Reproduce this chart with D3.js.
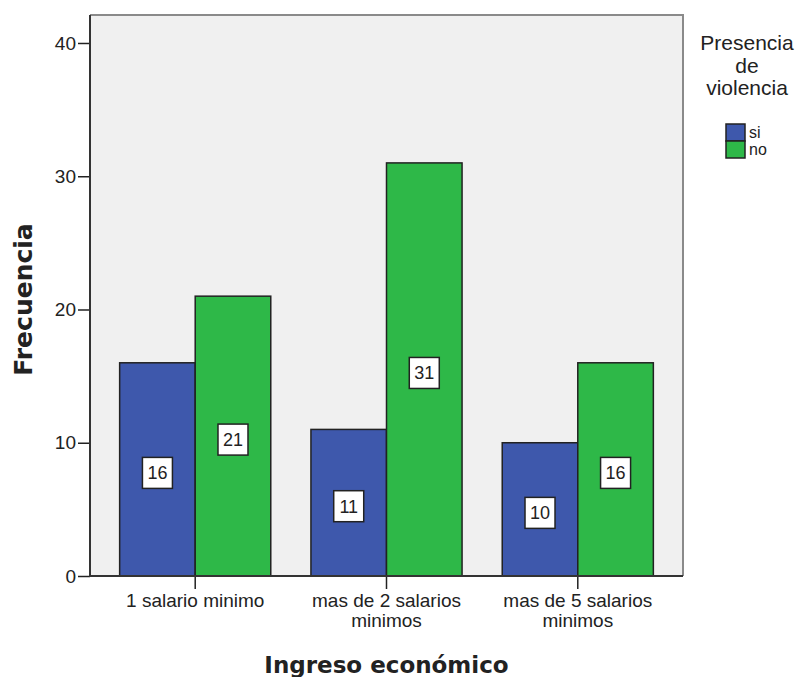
<!DOCTYPE html>
<html><head><meta charset="utf-8">
<script src="https://cdn.jsdelivr.net/npm/d3@7"></script>
<style>
html,body{margin:0;padding:0;background:#fff;}
svg{display:block;}
text{font-family:"Liberation Sans",Arial,sans-serif;fill:#222;}
</style></head>
<body>
<script>
const categories = ["1 salario minimo", "mas de 2 salarios minimos", "mas de 5 salarios minimos"];
const seriesNames = ["si", "no"];
const siValues = [16, 11, 10];
const noValues = [21, 31, 16];
const seriesColors = ["#3E58AC", "#2EB848"];
const yTicks = [0, 10, 20, 30, 40];
const yMax = 42.1;
const xTitle = "Ingreso económico";
const yTitle = "Frecuencia";
const legendTitle = ["Presencia", "de", "violencia"];

const W = 803, H = 677;
const m = {left: 90, top: 15, right: 683, bottom: 576};

const svg = d3.select("body").append("svg").attr("width", W).attr("height", H);

const x = d3.scaleBand().domain(categories).range([m.left, m.right]).paddingInner(0.21).paddingOuter(0.155);
const xs = d3.scaleBand().domain(seriesNames).range([0, x.bandwidth()]);
const y = d3.scaleLinear().domain([0, yMax]).range([m.bottom, m.top]);

// plot background
svg.append("rect").attr("x", m.left).attr("y", m.top)
  .attr("width", m.right - m.left).attr("height", m.bottom - m.top)
  .attr("fill", "#F0F0F0");
// top/right frame
svg.append("path").attr("d", `M${m.left},${m.top}H${m.right}V${m.bottom}`)
  .attr("fill", "none").attr("stroke", "#8a8a8a").attr("stroke-width", 2);

const data = [];
categories.forEach((c, i) => {
  data.push({cat: c, s: "si", v: siValues[i]});
  data.push({cat: c, s: "no", v: noValues[i]});
});
const color = d3.scaleOrdinal().domain(seriesNames).range(seriesColors);

svg.append("g").selectAll("rect").data(data).join("rect")
  .attr("x", d => x(d.cat) + xs(d.s))
  .attr("y", d => y(d.v))
  .attr("width", xs.bandwidth())
  .attr("height", d => y(0) - y(d.v))
  .attr("fill", d => color(d.s))
  .attr("stroke", "#222").attr("stroke-width", 1.5);

// value labels
const lab = svg.append("g").selectAll("g").data(data).join("g")
  .attr("transform", d => `translate(${x(d.cat) + xs(d.s) + xs.bandwidth()/2},${y(d.v/2) + 3.5})`);
lab.append("rect").attr("x", -15).attr("y", -15.5).attr("width", 30).attr("height", 31)
  .attr("fill", "#fff").attr("stroke", "#222").attr("stroke-width", 1.5);
lab.append("text").attr("text-anchor", "middle").attr("dy", "0.36em")
  .style("font-size", "18px").text(d => d.v);

// y axis
const yAxis = svg.append("g").attr("transform", `translate(${m.left},0)`)
  .call(d3.axisLeft(y).tickValues(yTicks).tickSize(12).tickPadding(2).tickFormat(d3.format("d")));
yAxis.select(".domain").remove();
yAxis.selectAll(".tick line").attr("stroke", "#222").attr("stroke-width", 1.5);
yAxis.selectAll(".tick text").style("font-size", "19px").attr("fill", "#222").attr("font-family", null);
svg.append("line").attr("x1", m.left).attr("x2", m.left).attr("y1", m.top).attr("y2", m.bottom + 1)
  .attr("stroke", "#333").attr("stroke-width", 2);

// x axis
const xAxis = svg.append("g").attr("transform", `translate(0,${m.bottom})`)
  .call(d3.axisBottom(x).tickSize(13).tickPadding(5));
xAxis.select(".domain").remove();
xAxis.selectAll(".tick line").attr("stroke", "#222").attr("stroke-width", 1.5);
xAxis.selectAll(".tick text").style("font-size", "19px").attr("fill", "#222").attr("font-family", null)
  .each(function(d) {
    const t = d3.select(this);
    const words = d.split(" ");
    t.text(null);
    let lines = [], cur = [];
    const tmp = t.append("tspan");
    words.forEach(w => {
      cur.push(w);
      tmp.text(cur.join(" "));
      if (tmp.node().getComputedTextLength() > 170 && cur.length > 1) {
        cur.pop(); lines.push(cur.join(" ")); cur = [w];
      }
    });
    lines.push(cur.join(" "));
    tmp.remove();
    lines.forEach((l, i) => {
      t.append("tspan").attr("x", 0).attr("dy", i === 0 ? "0.71em" : "20px").text(l);
    });
  });
svg.append("line").attr("x1", m.left - 1).attr("x2", m.right).attr("y1", m.bottom).attr("y2", m.bottom)
  .attr("stroke", "#333").attr("stroke-width", 2);

// axis titles
svg.append("text").attr("x", (m.left + m.right)/2).attr("y", 673)
  .attr("text-anchor", "middle")
  .style("font-family", "'DejaVu Sans',sans-serif").style("font-weight", "bold").style("font-size", "23px")
  .attr("fill", "#111").text(xTitle);
svg.append("text").attr("transform", `translate(32,${(m.top + m.bottom)/2 + 4}) rotate(-90)`)
  .attr("text-anchor", "middle")
  .style("font-family", "'DejaVu Sans',sans-serif").style("font-weight", "bold").style("font-size", "25px")
  .attr("fill", "#111").text(yTitle);

// legend
const lg = svg.append("g");
lg.selectAll("text.t").data(legendTitle).join("text").attr("class", "t")
  .attr("x", 747).attr("y", (d, i) => 50 + i * 22.5)
  .attr("text-anchor", "middle").style("font-size", "21px").text(d => d);
const li = lg.selectAll("g.item").data(seriesNames).join("g").attr("class", "item")
  .attr("transform", (d, i) => `translate(726,${124 + i * 17})`);
li.append("rect").attr("width", 19).attr("height", 17)
  .attr("fill", d => color(d)).attr("stroke", "#222").attr("stroke-width", 1.5);
li.append("text").attr("x", 23).attr("y", 14).style("font-size", "16px").text(d => d);
</script>
</body></html>
